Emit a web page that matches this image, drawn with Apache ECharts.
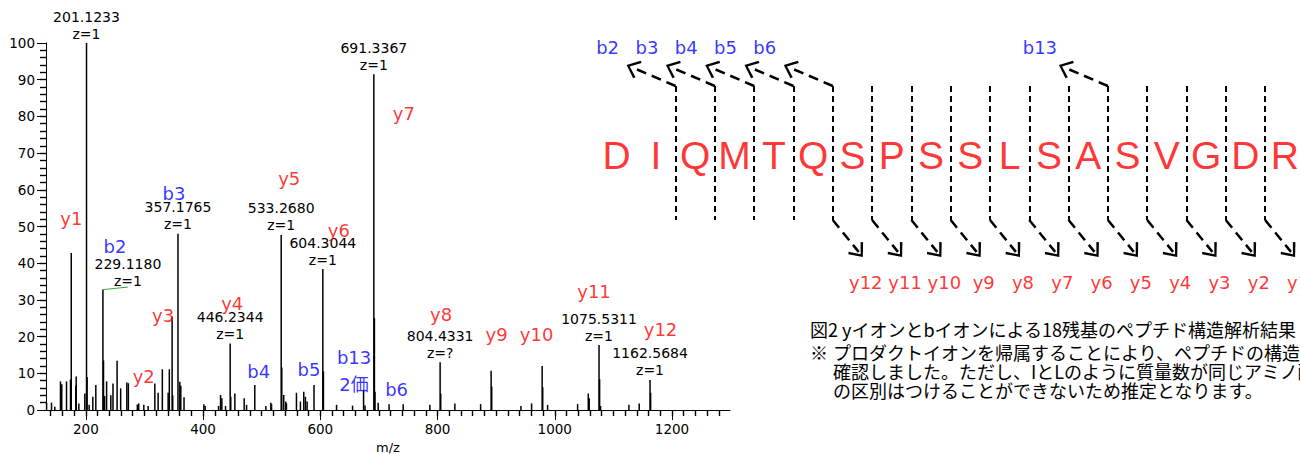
<!DOCTYPE html>
<html>
<head>
<meta charset="utf-8">
<title>MS/MS spectrum</title>
<script src="https://cdn.jsdelivr.net/npm/echarts@6.0.0/dist/echarts.min.js"></script>
<style>
  html, body { margin: 0; padding: 0; background: #ffffff; }
  #chart { width: 1300px; height: 454px; }
</style>
</head>
<body>
<div id="chart"></div>
<script>
// MS/MS spectrum, [m/z, relative intensity %]
var peaks = [
  [133.0, 2.0], [141.4, 2.0], [147.0, 0.9], [156.7, 7.8], [158.9, 7.0], [167.0, 7.8], [173.8, 8.3],
  [175.119, 42.8], [182.9, 6.7], [183.5, 9.1], [188.0, 1.8], [198.2, 4.5], [201.1233, 100], [202.13, 9.0],
  [205.6, 1.4], [211.9, 3.6], [217.0, 6.8], [229.118, 32.8], [230.12, 13.5], [232.0, 3.8], [235.4, 7.8],
  [242.6, 4.0], [246.3, 7.2], [253.3, 13.4], [259.4, 5.9], [269.9, 7.5], [272.5, 7.3], [287.8, 1.5],
  [290.146, 1.8], [298.9, 1.4], [306.2, 1.1], [317.7, 7.2], [323.3, 4.7], [330.5, 11.1], [340.4, 4.7],
  [342.4, 11.1], [347.167, 25.5], [348.2, 4.0], [357.1765, 48.0], [360.3, 7.7], [362.0, 6.6], [367.5, 3.5],
  [401.3, 1.6], [403.5, 1.1], [426.4, 1.1], [429.8, 4.1], [432.0, 3.2], [438.3, 1.1], [446.2344, 18.1],
  [447.24, 3.6], [454.2, 4.5], [470.1, 3.2], [474.2, 1.4], [488.22, 6.8], [507.1, 1.1], [515.6, 2.0],
  [516.8, 1.6], [533.268, 47.7], [534.27, 11.6], [537.6, 4.1], [541.0, 2.3], [542.2, 1.8], [559.3, 4.7],
  [566.1, 2.3], [571.8, 5.0], [574.6, 3.6], [577.5, 2.3], [589.27, 6.8], [604.3044, 38.4], [605.31, 10.5],
  [627.7, 1.4], [655.0, 1.2], [673.82, 5.5], [676.3, 1.2], [691.3367, 91.5], [692.34, 25.0], [693.3, 5.0],
  [698.7, 2.0], [717.33, 1.6], [741.4, 1.6], [786.9, 1.4], [804.4331, 13.0], [805.43, 4.5], [829.6, 1.8],
  [873.5, 1.6], [891.45, 10.7], [892.45, 6.4], [942.3, 1.1], [960.5, 1.8], [978.48, 12.0], [979.48, 6.2],
  [987.8, 1.4], [1039.0, 1.6], [1057.2, 4.5], [1058.8, 3.2], [1075.5311, 17.7], [1076.53, 8.4], [1078.2, 1.1],
  [1126.5, 1.4], [1144.1, 1.8], [1162.5684, 8.2], [1163.57, 4.7]
];

// peaks annotated with their mass and charge
var noteMz = [201.1233, 229.1180, 357.1765, 446.2344, 533.2680, 604.3044, 691.3367, 804.4331, 1075.5311, 1162.5684];
var noteCharge = ['z=1', 'z=1', 'z=1', 'z=1', 'z=1', 'z=1', 'z=1', 'z=?', 'z=1', 'z=1'];

// assigned fragment ions
var ionNames = ['y1', 'b2', 'y2', 'y3', 'b3', 'y4', 'b4', 'y5', 'b5', 'y6', 'b13', 'y7', 'b6', 'y8', 'y9', 'y10', 'y11', 'y12'];
var ionMz = [175.119, 229.118, 290.146, 347.167, 357.1765, 446.2344, 488.22, 533.268, 589.27, 604.3044, 673.82, 691.3367, 717.33, 804.4331, 891.45, 978.48, 1075.5311, 1162.5684];
var ionCharge = ['', '', '', '', '', '', '', '', '', '', '2価', '', '', '', '', '', '', ''];

// axis ticks
var mzTicks = [200, 400, 600, 800, 1000, 1200];
var mzMinorTicks = [];
for (var t = 140; t <= 1280; t += 20) mzMinorTicks.push(t);
var intMinorTicks = [];
for (var s = 2; s < 100; s += 2) intMinorTicks.push(s);

// peptide sequence and the fragments seen
var sequence = ['D', 'I', 'Q', 'M', 'T', 'Q', 'S', 'P', 'S', 'S', 'L', 'S', 'A', 'S', 'V', 'G', 'D', 'R'];
var bSeen = [2, 3, 4, 5, 6, 13];
var ySeen = [1, 2, 3, 4, 5, 6, 7, 8, 9, 10, 11, 12];

var captionTitle = '図2 yイオンとbイオンによる18残基のペプチド構造解析結果';
var captionNote = [
  'プロダクトイオンを帰属することにより、ペプチドの構造を',
  '確認しました。ただし、IとLのように質量数が同じアミノ酸',
  'の区別はつけることができないため推定となります。'
];

// ---- layout ----
var RED = '#ff0000', BLUE = '#0000ff';
var LATIN = '"DejaVu Sans", "Noto Sans CJK JP", sans-serif';
var JP = '"Noto Sans CJK JP", sans-serif';
var MZ_MIN = 132, MZ_MAX = 1299;
var SPEC = { left: 46, right: 570, top: 43, bottom: 44 };
var pxPerMz = (1300 - SPEC.left - SPEC.right) / (MZ_MAX - MZ_MIN);
var pxPerInt = (454 - SPEC.top - SPEC.bottom) / 100;
var MINOR_LEN = 6;

// label offsets in px from the top of each assigned peak
var ionShift = {
  y1: [0, -34], b2: [12, -43], y2: [5, -27], y3: [-9, -1], b3: [-4, -40], y4: [2, -40],
  b4: [4, -13.5], y5: [8, -56.5], b5: [-5, -15.5], y6: [16, -39], b13: [-9.5, -18.5],
  y7: [30, 39], b6: [7.5, -14.5], y8: [1, -48], y9: [5.5, -36], y10: [-5.5, -31],
  y11: [-5, -53.5], y12: [10.5, -50]
};
var noteShift = { '229.1180': [25, 1] };

// sequence diagram geometry
var SEQ_LEFT = 597, RES_PX = 39.3;
var SEQ_Y = 155, CUT_TOP = 86, CUT_BOTTOM = 220, B_LABEL_Y = 47, Y_LABEL_Y = 282;
var CHEVRON = 'path://M9.5,0 L19,11.2 L17.2,13 L9.5,3.4 L1.8,13 L0,11.2 Z';

function nearestPeak(mz) {
  var best = peaks[0];
  peaks.forEach(function (p) {
    if (Math.abs(p[0] - mz) < Math.abs(best[0] - mz)) best = p;
  });
  return best;
}

var barData = peaks.map(function (p) {
  var k = -1;
  noteMz.forEach(function (m, i) { if (Math.abs(m - p[0]) < 0.01) k = i; });
  if (k < 0) return p;
  var txt = noteMz[k].toFixed(4);
  return {
    value: p,
    label: {
      show: true, position: 'top', distance: 1,
      offset: noteShift[txt] || [0, 0],
      formatter: txt + '\n' + noteCharge[k],
      color: '#000', fontSize: 14, lineHeight: 17, fontFamily: LATIN
    }
  };
});

var b2Peak = nearestPeak(229.118);
var leader = [[b2Peak[0], b2Peak[1]], [b2Peak[0] + 25 / pxPerMz, b2Peak[1] + 0.7]];

var ionData = ionNames.map(function (name, i) {
  var p = nearestPeak(ionMz[i]);
  return {
    value: p,
    label: {
      formatter: ionCharge[i] ? name + '\n' + ionCharge[i] : name,
      color: name.charAt(0) === 'y' ? RED : BLUE,
      offset: ionShift[name]
    }
  };
});

// short outward ticks (every 20 on m/z, every 2 on intensity)
var minorTicks = mzMinorTicks.map(function (v) {
  return { coords: [[v, 0], [v, -MINOR_LEN / pxPerInt]] };
}).concat(intMinorTicks.map(function (v) {
  return { coords: [[MZ_MIN - MINOR_LEN / pxPerMz, v], [MZ_MIN, v]] };
}));

// cleavage sites on the sequence
var cutSet = {};
bSeen.forEach(function (n) { cutSet[n - 0.5] = true; });
ySeen.forEach(function (n) { cutSet[sequence.length - n - 0.5] = true; });
var cuts = Object.keys(cutSet).map(Number).sort(function (a, b) { return a - b; });

var cutLines = cuts.map(function (x) { return { coords: [[x, CUT_TOP], [x, CUT_BOTTOM]] }; });
var bArrows = bSeen.map(function (n) {
  var x = n - 0.5;
  return { coords: [[x, CUT_TOP], [x - 43 / RES_PX, CUT_TOP - 18.4]] };
});
var yArrows = ySeen.map(function (n) {
  var x = sequence.length - n - 0.5;
  return { coords: [[x, CUT_BOTTOM], [x + 25.9 / RES_PX, CUT_BOTTOM + 31.9]] };
});
var bLabels = bSeen.map(function (n) { return { value: [n - 0.5 - 68 / RES_PX, B_LABEL_Y], name: 'b' + n }; });
var yLabels = ySeen.map(function (n) {
  return { value: [sequence.length - n - 0.5 + 33 / RES_PX, Y_LABEL_Y], name: 'y' + n };
});

var chart = echarts.init(document.getElementById('chart'), null, { renderer: 'svg' });

var option = {
  animation: false,
  backgroundColor: '#fff',
  grid: [
    { left: SPEC.left, right: SPEC.right, top: SPEC.top, bottom: SPEC.bottom, outerBoundsMode: 'none' },
    { left: SEQ_LEFT, right: 0, top: 0, bottom: 0, outerBoundsMode: 'none' }
  ],
  xAxis: [
    {
      type: 'value', gridIndex: 0, min: MZ_MIN, max: MZ_MAX, position: 'bottom',
      name: 'm/z', nameLocation: 'middle', nameGap: 31,
      nameTextStyle: { color: '#000', fontSize: 13, fontFamily: LATIN },
      axisLine: { show: true, onZero: false, lineStyle: { color: '#000', width: 1 } },
      axisTick: { show: true, customValues: mzTicks, length: 10, lineStyle: { color: '#000' } },
      axisLabel: {
        show: true, customValues: mzTicks, margin: 12, color: '#000', fontSize: 13.5, fontFamily: LATIN,
        formatter: function (v) { return String(v); }
      },
      splitLine: { show: false }
    },
    { type: 'value', gridIndex: 1, min: -0.5, max: -0.5 + (1300 - SEQ_LEFT) / RES_PX, show: false }
  ],
  yAxis: [
    {
      type: 'value', gridIndex: 0, min: 0, max: 100, interval: 10, position: 'left',
      axisLine: { show: true, onZero: false, lineStyle: { color: '#000', width: 1 } },
      axisTick: { show: true, length: 9, lineStyle: { color: '#000' } },
      axisLabel: { margin: 11, color: '#000', fontSize: 13.5, fontFamily: LATIN },
      splitLine: { show: false }
    },
    { type: 'value', gridIndex: 1, min: 0, max: 454, inverse: true, show: false }
  ],
  series: [
    {
      type: 'bar', xAxisIndex: 0, yAxisIndex: 0, barWidth: 1.5, silent: true,
      itemStyle: { color: '#000' },
      data: barData
    },
    {
      type: 'lines', coordinateSystem: 'cartesian2d', xAxisIndex: 0, yAxisIndex: 0,
      silent: true, clip: false, symbol: 'none', z: 5,
      lineStyle: { color: '#000', width: 1.4, type: 'solid', opacity: 1 },
      data: minorTicks
    },
    {
      // green leader under the b2 mass label
      type: 'line', xAxisIndex: 0, yAxisIndex: 0, symbol: 'none', silent: true,
      lineStyle: { color: '#33aa33', width: 1 },
      data: leader
    },
    {
      type: 'scatter', xAxisIndex: 0, yAxisIndex: 0, symbolSize: 1, silent: true, clip: false,
      itemStyle: { color: 'rgba(0,0,0,0)' },
      label: { show: true, position: 'inside', fontSize: 18, lineHeight: 27, fontFamily: LATIN },
      data: ionData
    },
    {
      type: 'scatter', xAxisIndex: 1, yAxisIndex: 1, symbolSize: 1, silent: true,
      itemStyle: { color: 'rgba(0,0,0,0)' },
      label: {
        show: true, position: 'inside', color: RED, fontSize: 39,
        fontFamily: '"Liberation Sans", Arial, sans-serif',
        formatter: function (p) { return sequence[p.dataIndex]; }
      },
      data: sequence.map(function (c, i) { return [i, SEQ_Y]; })
    },
    {
      type: 'lines', coordinateSystem: 'cartesian2d', xAxisIndex: 1, yAxisIndex: 1, silent: true,
      symbol: 'none',
      lineStyle: { color: '#000', width: 2, type: [6, 4], opacity: 1 },
      data: cutLines
    },
    {
      type: 'lines', coordinateSystem: 'cartesian2d', xAxisIndex: 1, yAxisIndex: 1, silent: true,
      symbol: ['none', CHEVRON], symbolSize: [1, [19, 13]],
      lineStyle: { color: '#000', width: 2.5, type: [10, 6], opacity: 1 },
      data: bArrows
    },
    {
      type: 'lines', coordinateSystem: 'cartesian2d', xAxisIndex: 1, yAxisIndex: 1, silent: true,
      symbol: ['none', CHEVRON], symbolSize: [1, [19, 13]],
      lineStyle: { color: '#000', width: 2.5, type: [10, 6], opacity: 1 },
      data: yArrows
    },
    {
      type: 'scatter', xAxisIndex: 1, yAxisIndex: 1, symbolSize: 1, silent: true,
      itemStyle: { color: 'rgba(0,0,0,0)' },
      label: { show: true, position: 'inside', color: BLUE, fontSize: 18, fontFamily: LATIN, formatter: '{b}' },
      data: bLabels
    },
    {
      type: 'scatter', xAxisIndex: 1, yAxisIndex: 1, symbolSize: 1, silent: true,
      itemStyle: { color: 'rgba(0,0,0,0)' },
      label: { show: true, position: 'inside', color: RED, fontSize: 18, fontFamily: LATIN, formatter: '{b}' },
      data: yLabels
    }
  ],
  graphic: [
    { type: 'text', x: 810, y: 329, silent: true,
      style: { text: captionTitle, fill: '#000', fontSize: 18, fontFamily: JP, verticalAlign: 'middle' } },
    { type: 'text', x: 810, y: 352, silent: true,
      style: { text: '※', fill: '#000', fontSize: 18, fontFamily: JP, verticalAlign: 'middle' } },
    { type: 'text', x: 833, y: 342.5, silent: true,
      style: { text: captionNote.join('\n'), fill: '#000', fontSize: 18, lineHeight: 19,
               fontFamily: JP, verticalAlign: 'top' } }
  ]
};

chart.setOption(option);
</script>
</body>
</html>
